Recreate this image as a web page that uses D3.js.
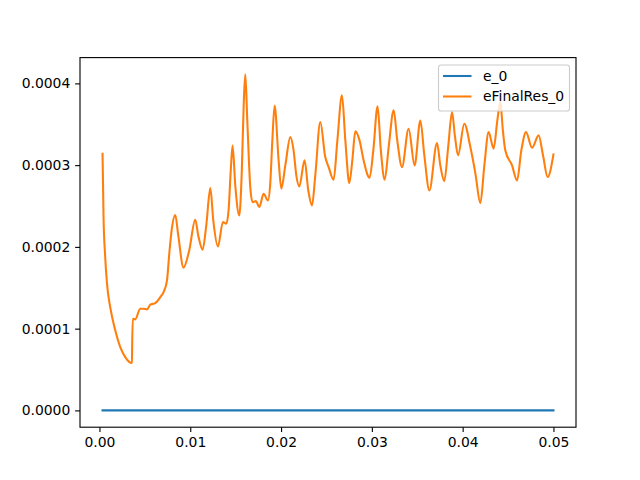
<!DOCTYPE html>
<html>
<head>
<meta charset="utf-8">
<script src="https://cdn.jsdelivr.net/npm/d3@7"></script>
<style>
  html, body { margin: 0; padding: 0; background: #fff; }
  svg { display: block; font-family: "DejaVu Sans", sans-serif; }
</style>
</head>
<body>
<svg id="chart" width="640" height="480"></svg>
<script>
// ---- data ----
const tValues = [
  0.00034, 0.00045, 0.00062, 0.00083, 0.00119, 0.00174, 0.00229, 0.00284, 0.00358, 0.00360,
  0.00367, 0.00394, 0.00449, 0.00486, 0.00523, 0.00560, 0.00615, 0.00670, 0.00706, 0.00744,
  0.00769, 0.00799, 0.00835, 0.00868, 0.00926, 0.00989, 0.01055, 0.01088, 0.01136, 0.01176,
  0.01221, 0.01254, 0.01305, 0.01360, 0.01397, 0.01422, 0.01446, 0.01466, 0.01496, 0.01540,
  0.01568, 0.01590, 0.01606, 0.01628, 0.01661, 0.01686, 0.01724, 0.01760, 0.01808, 0.01856,
  0.01881, 0.01904, 0.01929, 0.01973, 0.02003, 0.02047, 0.02102, 0.02138, 0.02168, 0.02201,
  0.02259, 0.02300, 0.02341, 0.02377, 0.02432, 0.02487, 0.02524, 0.02579, 0.02620, 0.02671,
  0.02708, 0.02752, 0.02785, 0.02818, 0.02865, 0.02909, 0.02975, 0.03016, 0.03063, 0.03099,
  0.03141, 0.03187, 0.03240, 0.03280, 0.03332, 0.03405, 0.03471, 0.03534, 0.03578, 0.03633,
  0.03718, 0.03754, 0.03798, 0.03842, 0.03883, 0.03914, 0.03949, 0.04018, 0.04085, 0.04140,
  0.04195, 0.04239, 0.04286, 0.04341, 0.04382, 0.04415, 0.04443, 0.04470, 0.04544, 0.04599,
  0.04646, 0.04698, 0.04764, 0.04837, 0.04885, 0.04936, 0.05000
];
const eFinalRes0 = [
  0.000314, 0.000236, 0.000190, 0.000155, 0.000126, 0.0000979, 0.0000774, 0.0000652, 0.0000579, 0.0000774,
  0.0001122, 0.0001113, 0.0001244, 0.0001244, 0.0001235, 0.0001293, 0.0001313, 0.0001386, 0.0001447, 0.000159,
  0.000192, 0.000224, 0.000239, 0.000214, 0.0001746, 0.000196, 0.0002333, 0.000214, 0.0001966, 0.000226,
  0.000272, 0.000232, 0.0002006, 0.0002303, 0.0002284, 0.0002446, 0.0002936, 0.000324, 0.000275, 0.0002385,
  0.0002936, 0.000379, 0.000411, 0.000355, 0.000273, 0.0002548, 0.000256, 0.0002487, 0.000265, 0.0002569,
  0.0002777, 0.000330, 0.000373, 0.000306, 0.0002712, 0.0002997, 0.0003343, 0.000318, 0.0002875, 0.000274,
  0.000306, 0.000269, 0.0002508, 0.0002875, 0.0003527, 0.0003099, 0.0002976, 0.0002822, 0.000330, 0.0003853,
  0.000330, 0.000278, 0.000306, 0.0003413, 0.000330, 0.000306, 0.0002846, 0.000318, 0.000372, 0.000318,
  0.0002822, 0.000324, 0.000367, 0.000330, 0.0002976, 0.0003446, 0.0002997, 0.0003547, 0.000312, 0.0002691,
  0.000327, 0.0002997, 0.0002805, 0.000324, 0.0003649, 0.0003364, 0.000312, 0.0003507, 0.0003221, 0.000290,
  0.0002536, 0.0002997, 0.0003404, 0.0003201, 0.0003547, 0.0003771, 0.0003425, 0.000318, 0.0002997, 0.0002813,
  0.000318, 0.0003404, 0.0003213, 0.0003364, 0.000312, 0.0002854, 0.0003131
];
const e0 = tValues.map(() => 0);
const seriesNames = ["e_0", "eFinalRes_0"];
const seriesColors = ["#1f77b4", "#ff7f0e"];
const xTicks = [0.00, 0.01, 0.02, 0.03, 0.04, 0.05];
const yTicks = [0.0000, 0.0001, 0.0002, 0.0003, 0.0004];

// ---- layout ----
const mLeft = 80, mTop = 57.6, pw = 496, ph = 369.6;
const svg = d3.select("#chart");

const xMin = d3.min(tValues), xMax = d3.max(tValues);
const xPad = (xMax - xMin) * 0.05;
const allY = eFinalRes0.concat(e0);
const yMin = d3.min(allY), yMax = d3.max(allY);
const yPad = (yMax - yMin) * 0.05;

const x = d3.scaleLinear().domain([xMin - xPad, xMax + xPad]).range([mLeft, mLeft + pw]);
const y = d3.scaleLinear().domain([yMin - yPad, yMax + yPad]).range([mTop + ph, mTop]);

const g = svg.append("g");

const line = d3.line().x(d => x(d[0])).y(d => y(d[1])).curve(d3.curveMonotoneX);
const series = [e0, eFinalRes0];
series.forEach((vals, i) => {
  g.append("path")
    .datum(tValues.map((t, j) => [t, vals[j]]))
    .attr("fill", "none")
    .attr("stroke", seriesColors[i])
    .attr("stroke-width", 2.08)
    .attr("stroke-linejoin", "round")
    .attr("stroke-linecap", "square")
    .attr("d", line);
});

// axes
const xAxis = d3.axisBottom(x).tickValues(xTicks).tickFormat(d3.format(".2f")).tickSizeInner(4.86).tickSizeOuter(0).tickPadding(4.86);
const yAxis = d3.axisLeft(y).tickValues(yTicks).tickFormat(d3.format(".4f")).tickSizeInner(4.86).tickSizeOuter(0).tickPadding(4.86);

const gx = svg.append("g").attr("transform", `translate(0,${mTop + ph})`).call(xAxis);
const gy = svg.append("g").attr("transform", `translate(${mLeft},0)`).call(yAxis);
[gx, gy].forEach(a => {
  a.select(".domain").remove();
  a.selectAll("line").attr("stroke", "#000").attr("stroke-width", 1.11);
  a.selectAll("text").attr("font-size", "13.9px").attr("fill", "#000").attr("font-family", "DejaVu Sans, sans-serif");
});

// spines
svg.append("rect")
  .attr("x", mLeft).attr("y", mTop).attr("width", pw).attr("height", ph)
  .attr("fill", "none").attr("stroke", "#000").attr("stroke-width", 1.11);

// legend
const lg = svg.append("g");
lg.append("rect")
  .attr("x", 438.5).attr("y", 65).attr("width", 131).attr("height", 46)
  .attr("rx", 2.8).attr("ry", 2.8)
  .attr("fill", "#fff").attr("fill-opacity", 0.8)
  .attr("stroke", "#cccccc").attr("stroke-width", 1.11);
seriesNames.forEach((name, i) => {
  const yy = 76 + i * 20.5;
  lg.append("line").attr("x1", 443).attr("x2", 471.5).attr("y1", yy).attr("y2", yy)
    .attr("stroke", seriesColors[i]).attr("stroke-width", 2.08);
  lg.append("text").attr("x", 483).attr("y", yy).attr("dy", "0.35em")
    .attr("font-size", "13.9px").attr("fill", "#000").text(name);
});
</script>
</body>
</html>
